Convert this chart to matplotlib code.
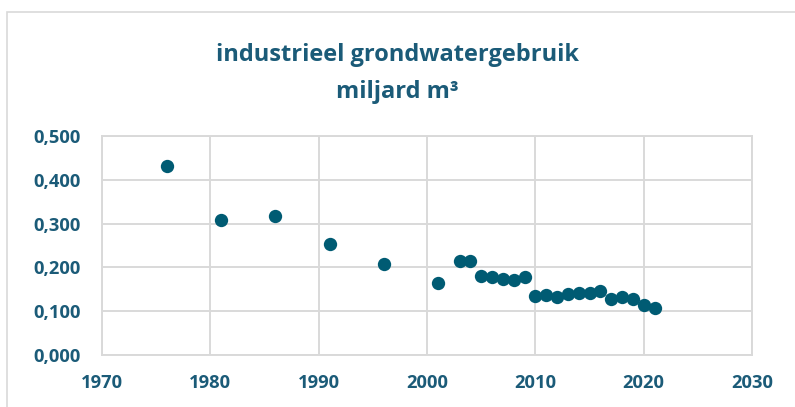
import matplotlib
matplotlib.use("Agg")
import matplotlib.pyplot as plt
from matplotlib.patches import Rectangle
from matplotlib.ticker import FuncFormatter, MultipleLocator

# industrieel grondwatergebruik (miljard m3)
years = [1976, 1981, 1986, 1991, 1996, 2001, 2003, 2004, 2005, 2006, 2007,
         2008, 2009, 2010, 2011, 2012, 2013, 2014, 2015, 2016, 2017, 2018,
         2019, 2020, 2021]
usage = [0.432, 0.309, 0.317, 0.253, 0.208, 0.164, 0.215, 0.215, 0.181,
         0.177, 0.173, 0.171, 0.177, 0.135, 0.137, 0.133, 0.139, 0.141,
         0.142, 0.145, 0.128, 0.133, 0.128, 0.114, 0.108]

TEAL = "#005b73"
TXT = "#1b5b78"
GRID = "#d9d9d9"

plt.rcParams["font.family"] = ["Open Sans", "DejaVu Sans"]

fig = plt.figure(figsize=(7.95, 4.07), dpi=100)
fig.patches.append(Rectangle((7 / 795, -0.1), 1.2, 1 - 12 / 407 + 0.1,
                             transform=fig.transFigure, fill=False,
                             edgecolor=GRID, linewidth=1.2))
ax = fig.add_axes([102 / 795, 52 / 407, 650 / 795, 219 / 407])

ax.scatter(years, usage, s=92, color=TEAL, zorder=3, linewidths=0)

ax.set_xlim(1970, 2030)
ax.set_ylim(0, 0.5)
ax.xaxis.set_major_locator(MultipleLocator(10))
ax.yaxis.set_major_locator(MultipleLocator(0.1))
ax.yaxis.set_major_formatter(FuncFormatter(lambda v, p: f"{v:.3f}".replace(".", ",")))
ax.grid(True, color=GRID, linewidth=1.4)
ax.set_axisbelow(True)
for sp in ax.spines.values():
    sp.set_color(GRID)
    sp.set_linewidth(1.4)
ax.tick_params(length=0, labelsize=13.2, labelcolor=TXT)
ax.tick_params(axis="x", pad=14)
ax.tick_params(axis="y", pad=15.5)
for lab in ax.get_xticklabels() + ax.get_yticklabels():
    lab.set_fontweight("bold")

fig.text(0.5, 1 - 61 / 407, "industrieel grondwatergebruik", ha="center",
         va="baseline", fontsize=17, fontweight="bold", color=TXT)
fig.text(0.5, 1 - 98 / 407, "miljard m³", ha="center", va="baseline",
         fontsize=17, fontweight="bold", color=TXT)

fig.savefig("out.png", dpi=100)
